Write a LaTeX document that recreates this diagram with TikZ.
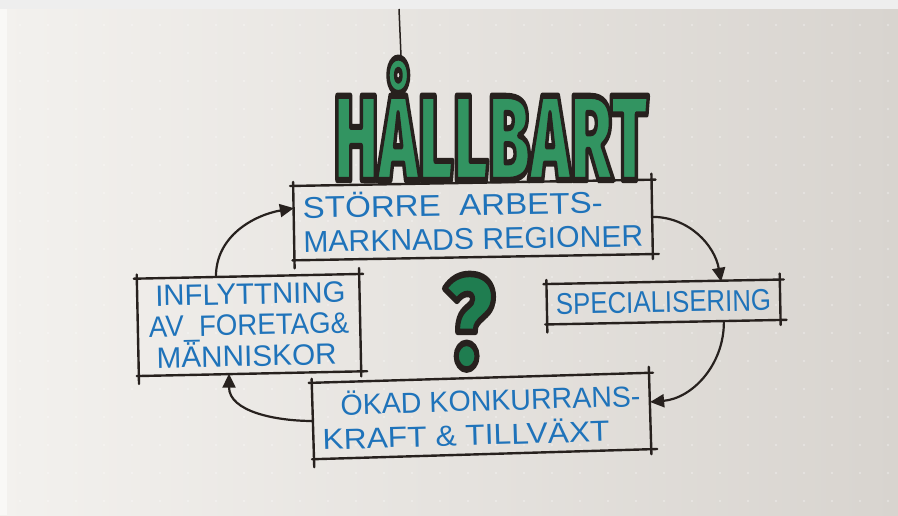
\documentclass[tikz,border=0pt]{standalone}
\usepackage{fontspec}
\usepackage{graphicx}
\setmainfont{Liberation Sans}
\IfFontExistsTF{Fira Sans Black}
  {\newfontfamily\titlefont{Fira Sans Black}[FakeBold=5]}
  {\newfontfamily\titlefont{Liberation Sans}[UprightFont={* Bold},FakeBold=5]}
\usetikzlibrary{arrows.meta,calc}

\definecolor{paperL}{HTML}{F3F1EE}
\definecolor{paperR}{HTML}{D8D4CF}
\definecolor{topband}{HTML}{EEEEEE}
\definecolor{ink}{HTML}{27211E}
\definecolor{bluepen}{HTML}{1F73BA}

\newcommand\fitw[2]{\resizebox{#1}{\height}{#2}}
% marker lettering: green fill, black stroke (fill colour first, stroke colour second)
\newcommand\greenink[2]{\special{pdf:bcolor [#1] [0.153 0.129 0.118]}#2\special{pdf:ecolor}}

\tikzset{
  inkline/.style={draw=ink, line width=2.4pt, line cap=round},
  flow/.style={draw=ink, line width=2.2pt, -{Triangle[length=14pt,width=13pt]}},
  boxnode/.style={inner sep=0pt, text=bluepen, align=left},
  bigtxt/.style={inner sep=0pt, anchor=base, line join=round,
                 font=\titlefont\fontsize{#1}{#1}\selectfont},
}

% hand drawn box with overshooting corners
\newcommand\handbox[1]{%
  \draw[inkline] ($(#1.north west)!-3pt!(#1.north east)$) -- ($(#1.north east)!-4pt!(#1.north west)$);
  \draw[inkline] ($(#1.north east)!-6pt!(#1.south east)$) -- ($(#1.south east)!-5pt!(#1.north east)$);
  \draw[inkline] ($(#1.south east)!-6pt!(#1.south west)$) -- ($(#1.south west)!-2pt!(#1.south east)$);
  \draw[inkline] ($(#1.south west)!-8pt!(#1.north west)$) -- ($(#1.north west)!-4pt!(#1.south west)$);
}

\begin{document}
\begin{tikzpicture}[x=1pt,y=1pt]
  \useasboundingbox (0,0) rectangle (898,515);
  % paper
  \shade[left color=paperL, right color=paperR] (0,0) rectangle (898,515);
  \foreach \gx in {20,48,...,890} {
    \foreach \gy in {14,42,...,500} {
      \fill[white, opacity=0.3] (\gx,\gy) circle (1.3pt);
    }
  }
  \fill[topband] (0,506) rectangle (898,515);
  \fill[white, opacity=0.5] (0,0) rectangle (7,506);

  % stem line at the top
  \coordinate (stemtop) at (399,506);
  \coordinate (stembot) at (401,459);
  \draw[ink, line width=1.5pt] (stemtop) -- (stembot);

  % title and question mark
  \node[bigtxt=121] (title) at (491,335)
        {\greenink{0.196 0.58 0.38}{\fitw{314pt}{HÅLLBART}}};
  \node[bigtxt=130] (qmark) at (469,148)
        {\greenink{0.122 0.49 0.314}{\fitw{50pt}{?}}};

  % boxes
  \node[boxnode, minimum width=358pt, minimum height=74pt, rotate=1,
        font=\fontsize{30}{34}\selectfont] (box1) at (473,295)
        {\fitw{300pt}{STÖRRE\ \ ARBETS-}\\\fitw{340pt}{MARKNADS REGIONER}};
  \node[boxnode, minimum width=233pt, minimum height=40pt, rotate=1.1,
        font=\fontsize{30}{31}\selectfont] (box2) at (663.5,213)
        {\fitw{215pt}{SPECIALISERING}};
  \node[boxnode, minimum width=337pt, minimum height=76pt, rotate=1.7,
        font=\fontsize{29}{34}\selectfont] (box3) at (481.5,99)
        {\hspace*{19pt}\fitw{300pt}{ÖKAD KONKURRANS-}\\\fitw{287pt}{KRAFT \& TILLVÄXT}};
  \node[boxnode, minimum width=222pt, minimum height=97pt, rotate=1.2,
        font=\fontsize{29.5}{31}\selectfont] (box4) at (249,190)
        {\hspace*{7pt}\fitw{190pt}{INFLYTTNING}\\\fitw{200pt}{AV\_FORETAG\&}\\\hspace*{7pt}\fitw{180pt}{MÄNNISKOR}};

  \handbox{box1}
  \handbox{box2}
  \handbox{box3}
  \handbox{box4}

  % cycle arrows
  \draw[flow] ([xshift=-32pt]box4.north) to[out=90,in=190] ([yshift=15pt]box1.west);
  \draw[flow] (box1.east) to[out=0,in=100] ([xshift=58pt]box2.north);
  \draw[flow] ([xshift=60pt]box2.south) to[out=-90,in=5] ([yshift=9pt]box3.east);
  \draw[flow] (box3.west) to[out=180,in=-90] ([xshift=-21pt]box4.south);
\end{tikzpicture}
\end{document}
